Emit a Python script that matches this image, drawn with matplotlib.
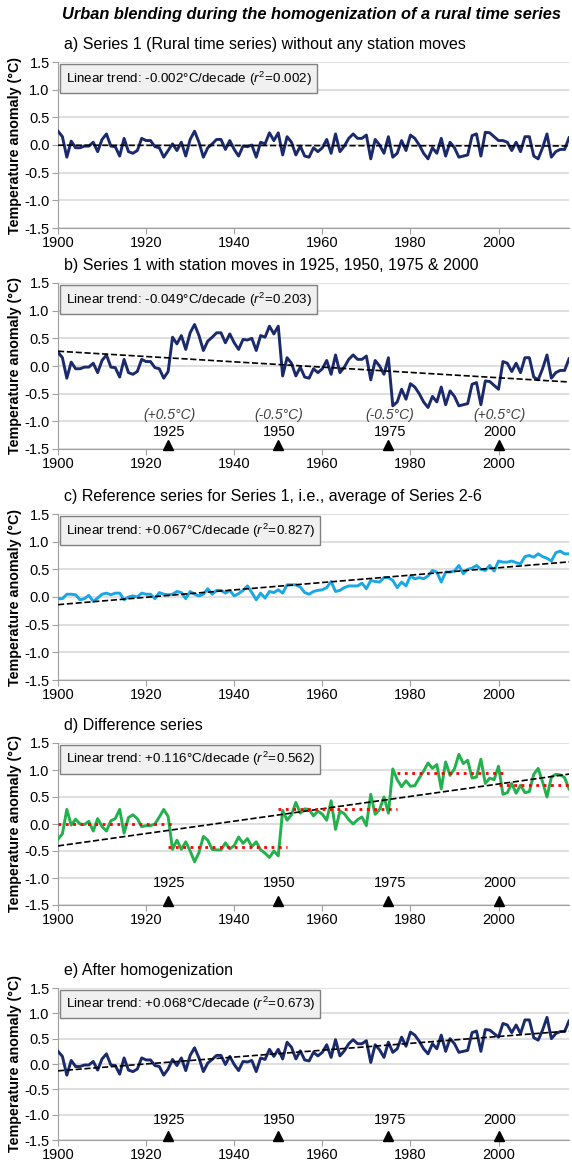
import numpy as np
import matplotlib
matplotlib.use('Agg')
from matplotlib import pyplot as plt
from matplotlib.ticker import FormatStrFormatter

plt.rcParams['font.family'] = ['Liberation Sans', 'DejaVu Sans']
plt.rcParams['mathtext.fontset'] = 'custom'
plt.rcParams['mathtext.rm'] = 'Liberation Sans'
plt.rcParams['mathtext.it'] = 'Liberation Sans:italic'
plt.rcParams['axes.unicode_minus'] = False

years = np.arange(1900, 2017)

# Series 1, rural station, no moves (read from panel a / b)
rural = [
    0.25, 0.15, -0.22, 0.07, -0.05, -0.05, -0.02, -0.02, 0.05, -0.12,
    0.10, 0.20, -0.02, -0.03, -0.20, 0.12, -0.12, -0.15, -0.10, 0.12,
    0.08, 0.08, -0.03, -0.05, -0.22, -0.10, 0.02, -0.10, 0.05, -0.20,
    0.10, 0.25, 0.05, -0.22, -0.05, 0.02, 0.10, 0.10, -0.08, 0.08,
    -0.08, -0.20, -0.02, -0.03, 0.00, -0.22, 0.05, 0.02, 0.22, 0.08,
    0.22, -0.18, 0.15, 0.05, -0.18, -0.02, -0.20, -0.22, -0.05, -0.12,
    -0.05, 0.10, -0.15, 0.20, -0.12, -0.02, 0.12, 0.20, 0.12, 0.12,
    0.18, -0.25, 0.10, 0.00, -0.15, 0.15, -0.22, -0.15, 0.08, -0.10,
    0.18, 0.12, 0.00, -0.15, -0.25, -0.05, -0.15, 0.12, -0.20, 0.05,
    -0.05, -0.22, -0.20, -0.18, 0.17, 0.20, -0.20, 0.23, 0.22, 0.15,
    0.08, 0.08, 0.05, -0.10, 0.05, -0.12, 0.15, 0.15, -0.20, -0.25,
    -0.05, 0.20, -0.22, -0.12, -0.08, -0.08, 0.13,
]

# reference series = average of series 2-6 (panel c)
reference = [
    -0.03, -0.03, 0.05, 0.05, 0.04, -0.05, -0.03, 0.03, -0.08, -0.02,
    0.05, 0.07, 0.04, 0.07, 0.07, -0.05, 0.00, 0.02, 0.00, 0.07,
    0.05, 0.05, -0.03, 0.08, 0.05, 0.04, 0.05, 0.10, 0.08, -0.03,
    0.10, 0.05, 0.02, 0.05, 0.15, 0.05, 0.12, 0.12, 0.07, 0.12,
    0.02, 0.06, 0.12, 0.20, 0.08, -0.05, 0.07, -0.02, 0.10, 0.08,
    0.13, 0.07, 0.22, 0.22, 0.22, 0.18, 0.08, 0.05, 0.10, 0.12,
    0.13, 0.17, 0.28, 0.10, 0.12, 0.17, 0.20, 0.20, 0.20, 0.25,
    0.15, 0.30, 0.28, 0.27, 0.35, 0.35, 0.30, 0.17, 0.27, 0.20,
    0.38, 0.33, 0.35, 0.33, 0.38, 0.48, 0.45, 0.27, 0.45, 0.45,
    0.47, 0.57, 0.42, 0.50, 0.52, 0.57, 0.50, 0.48, 0.57, 0.47,
    0.65, 0.63, 0.63, 0.65, 0.62, 0.60, 0.73, 0.75, 0.72, 0.78,
    0.73, 0.70, 0.65, 0.80, 0.83, 0.78, 0.78,
]

move_years = [1925, 1950, 1975, 2000]
move_sizes = [0.5, -0.5, -0.5, 0.5]
move_labels = ['(+0.5°C)', '(-0.5°C)', '(-0.5°C)', '(+0.5°C)']

# segment means of the difference series (red dotted lines)
step_levels = [0.0, -0.43, 0.28, 0.95, 0.72]
step_spans = [(1900, 1926), (1925, 1952), (1950, 1977), (1977, 2001.5), (2000, 2016)]

titles = [
    'a) Series 1 (Rural time series) without any station moves',
    'b) Series 1 with station moves in 1925, 1950, 1975 & 2000',
    'c) Reference series for Series 1, i.e., average of Series 2-6',
    'd) Difference series',
    'e) After homogenization',
]
trends = ['-0.002', '-0.049', '+0.067', '+0.116', '+0.068']
r2s = ['0.002', '0.203', '0.827', '0.562', '0.673']

navy = '#1b2a6b'
cyan = '#1aa7e4'
green = '#22b14c'

rural = np.array(rural)
reference = np.array(reference)
seg = np.searchsorted(move_years, years, side='left')
moved = rural + np.cumsum([0] + move_sizes)[seg]
diff = reference - moved
homog = moved + (np.array(step_levels) - step_levels[0])[seg]

series = [(rural, navy), (moved, navy), (reference, cyan), (diff, green), (homog, navy)]

W, H = 572, 1164
fig = plt.figure(figsize=(W / 100, H / 100), dpi=100)
# (top, bottom) of each plot area in pixels
rows = [(62, 228), (283, 449), (514, 680), (743, 905), (988, 1140)]
left, right = 58, 569

fig.text(312 / W, 1 - 14 / H, 'Urban blending during the homogenization of a rural time series',
         ha='center', va='center', fontsize=11.8, fontweight='bold', fontstyle='italic')

for i, ((top, bot), (y, col)) in enumerate(zip(rows, series)):
    ax = fig.add_axes([left / W, 1 - bot / H, (right - left) / W, (bot - top) / H])
    ax.plot(years, y, color=col, lw=2.1, zorder=3)
    k, b0 = np.polyfit(years, y, 1)
    ax.plot([1900, 2016], [k * 1900 + b0, k * 2016 + b0], color='black', ls='--', lw=1.2, zorder=4)

    if i == 3:
        for lev, (x0, x1) in zip(step_levels, step_spans):
            ax.plot([x0, x1], [lev, lev], color='red', ls=':', lw=2.0, zorder=5)

    if i in (1, 3, 4):
        ylab = -1.2 if i == 1 else -1.1
        for j, yr in enumerate(move_years):
            ax.plot(yr, -1.42, marker='^', color='black', ms=7, zorder=6, clip_on=False)
            ax.text(yr + 0.3, ylab, str(yr), ha='center', va='center', fontsize=10.5)
            if i == 1:
                ax.text(yr + 0.2, -0.88, move_labels[j], ha='center', va='center',
                        fontsize=10, fontstyle='italic', color='#404040')

    ax.text(0.015, 0.955,
            'Linear trend: %s°C/decade ($\\mathit{r}^{2}\\!=\\!\\mathit{%s}$)' % (trends[i], r2s[i]),
            transform=ax.transAxes, ha='left', va='top', fontsize=9.6, zorder=7,
            bbox=dict(boxstyle='square,pad=0.4', fc='#f0f0f0', ec='#808080', lw=1))

    ax.annotate(titles[i], xy=(0, 1), xycoords='axes fraction', xytext=(4, 7),
                textcoords='offset points', ha='left', va='bottom', fontsize=11.5)

    ax.set_xlim(1900, 2016)
    ax.set_ylim(-1.5, 1.5)
    ax.set_xticks(range(1900, 2001, 20))
    ax.set_yticks(np.arange(-1.5, 1.51, 0.5))
    ax.yaxis.set_major_formatter(FormatStrFormatter('%.1f'))
    ax.tick_params(labelsize=10.5, length=4, color='#a0a0a0', pad=2)
    ax.grid(axis='y', color='#d9d9d9', lw=1.2)
    ax.set_axisbelow(True)
    for s in ('top', 'right'):
        ax.spines[s].set_visible(False)
    for s in ('left', 'bottom'):
        ax.spines[s].set_color('#a0a0a0')
    ax.set_ylabel('Temperature anomaly (°C)', fontsize=10.3, fontweight='bold', labelpad=2)

fig.savefig('out.png', dpi=100)
